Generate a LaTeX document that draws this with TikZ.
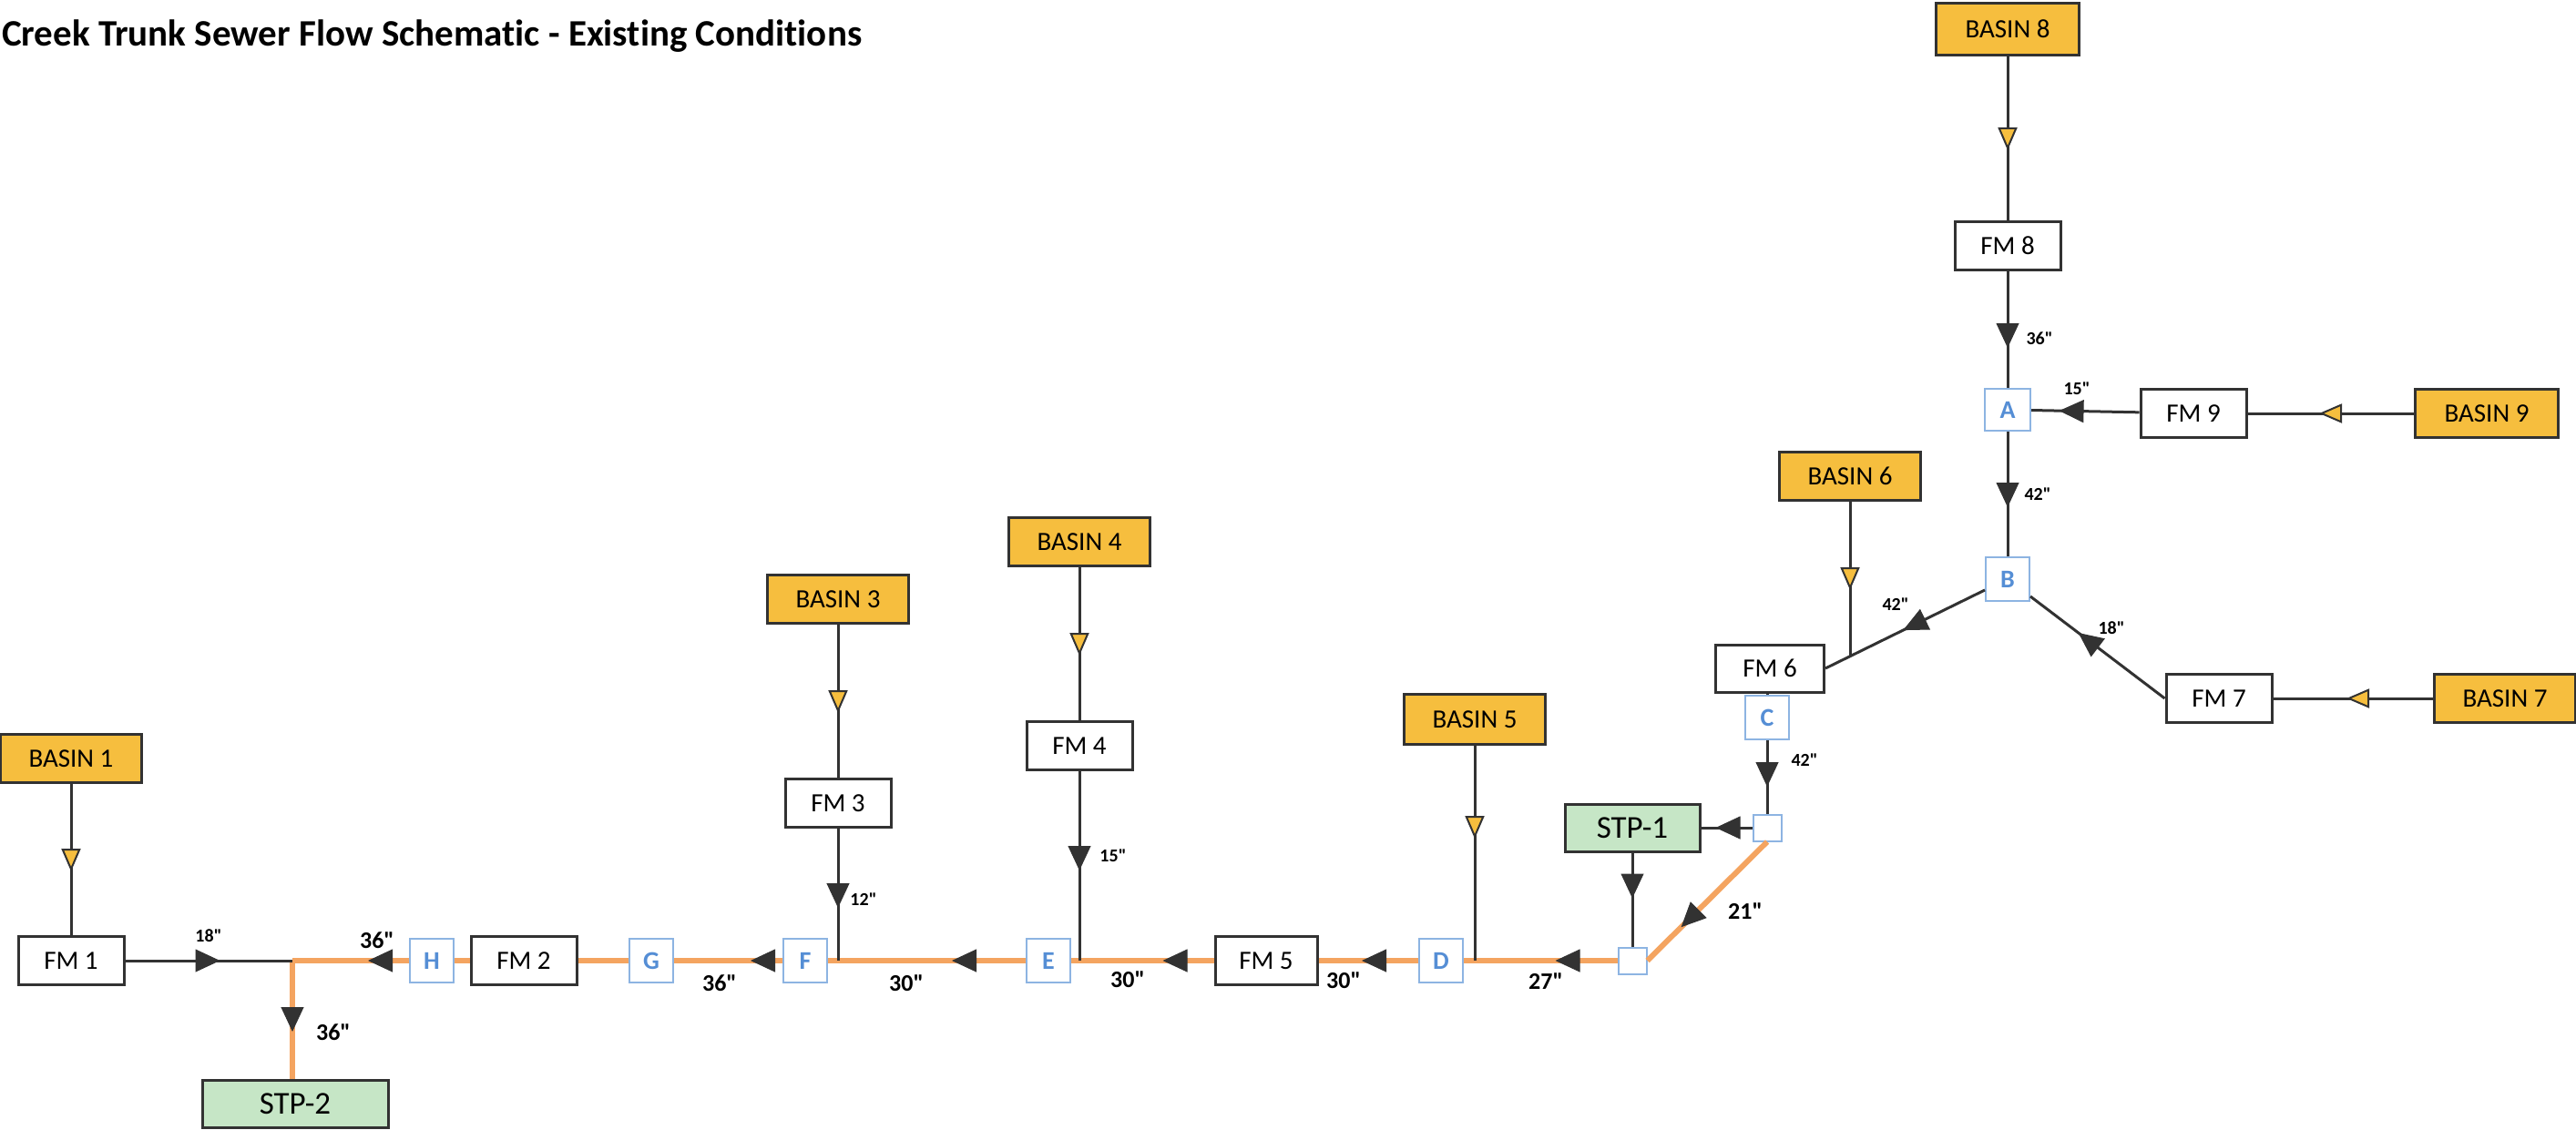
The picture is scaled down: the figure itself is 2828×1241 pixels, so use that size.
\documentclass[tikz,border=0pt]{standalone}
\usepackage{fontspec}
\setmainfont{Carlito}[Ligatures={TeXOff,NoCommon}]
\usetikzlibrary{arrows.meta,decorations.markings}
\definecolor{basinc}{RGB}{246,190,62}
\definecolor{stpc}{RGB}{198,230,198}
\definecolor{pipec}{RGB}{244,164,96}
\definecolor{dark}{RGB}{50,50,50}
\definecolor{ltr}{RGB}{85,142,213}
\definecolor{ltrb}{RGB}{141,180,226}
\begin{document}
\begin{tikzpicture}[x=1pt,y=-1pt,
  basin/.style={draw=dark,fill=basinc,line width=3pt,minimum width=155pt,minimum height=53pt,inner sep=0pt,font=\fontsize{29}{31}\selectfont},
  fm/.style={draw=dark,fill=white,line width=3pt,minimum width=116pt,minimum height=53pt,inner sep=0pt,font=\fontsize{29}{31}\selectfont},
  stp/.style={draw=dark,fill=stpc,line width=3pt,minimum height=52pt,inner sep=0pt,font=\fontsize{35}{37}\selectfont},
  ltrbox/.style={draw=ltrb,fill=white,line width=2pt,minimum width=48pt,minimum height=48pt,inner sep=0pt,text=ltr,font=\bfseries\fontsize{28}{30}\selectfont},
  jbox/.style={draw=ltrb,fill=white,line width=2pt,minimum width=31pt,minimum height=29pt,inner sep=0pt},
  pipe/.style={draw=dark,line width=3pt},
  opipe/.style={draw=pipec,line width=6pt},
  lsmall/.style={font=\bfseries\fontsize{20}{20}\selectfont,inner sep=0pt},
  lbig/.style={font=\bfseries\fontsize{26}{26}\selectfont,inner sep=0pt},
  ytri/.style={postaction={decorate,decoration={markings,mark=at position #1 with {\arrow{Triangle[color=dark,fill=basinc,length=25pt,width=21pt,line width=2pt]}}}}},
  dtri/.style={postaction={decorate,decoration={markings,mark=at position #1 with {\arrow{Triangle[color=dark,length=27pt,width=25pt,line width=1pt]}}}}}
]
\useasboundingbox (0,0) rectangle (2828,1241);

% title
\node[anchor=base west,font=\bfseries\fontsize{41}{41}\selectfont,inner sep=0pt] (title) at (2,51) {Creek Trunk Sewer Flow Schematic - Existing Conditions};

% nodes
\node[basin] (basin1) at (78,833) {BASIN 1};
\node[fm] (fm1) at (78,1055) {FM 1};
\coordinate (j1) at (321,1055);
\node[stp,minimum width=204pt] (stp2) at (324,1212) {STP-2};
\node[ltrbox] (h) at (474,1055) {H};
\node[fm] (fm2) at (575,1055) {FM 2};
\node[ltrbox] (g) at (715,1055) {G};
\node[ltrbox] (f) at (884,1055) {F};
\node[basin] (basin3) at (920,658) {BASIN 3};
\node[fm] (fm3) at (920,882) {FM 3};
\node[ltrbox] (e) at (1151,1055) {E};
\node[basin] (basin4) at (1185,595) {BASIN 4};
\node[fm] (fm4) at (1185,819) {FM 4};
\node[fm,minimum width=112pt] (fm5) at (1390,1055) {FM 5};
\node[ltrbox] (d) at (1582,1055) {D};
\node[basin,minimum height=55pt] (basin5) at (1619,790) {BASIN 5};
\node[jbox] (j2) at (1792,1055) {};
\node[stp,minimum width=148pt] (stp1) at (1792,909) {STP-1};
\node[jbox] (j3) at (1940,909) {};
\node[ltrbox] (c) at (1940,788) {C};
\node[fm,minimum width=119pt,minimum height=52pt] (fm6) at (1943,734) {FM 6};
\node[basin] (basin6) at (2031,523) {BASIN 6};
\node[ltrbox] (b) at (2204,636) {B};
\node[ltrbox,minimum width=50pt,minimum height=46pt] (a) at (2204,450) {A};
\node[fm] (fm8) at (2204,270) {FM 8};
\node[basin,minimum width=157pt,minimum height=57pt] (basin8) at (2204,32) {BASIN 8};
\node[fm] (fm9) at (2408,454) {FM 9};
\node[basin,minimum width=157pt] (basin9) at (2730,454) {BASIN 9};
\node[fm] (fm7) at (2436,767) {FM 7};
\node[basin] (basin7) at (2750,767) {BASIN 7};

% main trunk (orange)
\draw[opipe,dtri=45pt] (h) -- (j1);
\draw[opipe,dtri=78pt] (j1) -- (j1 |- stp2.north);
\draw[opipe] (fm2) -- (h);
\draw[opipe] (g) -- (fm2);
\draw[opipe,dtri=35pt] (f) -- (g);
\draw[opipe,dtri=81pt] (e) -- (f);
\draw[opipe,dtri=56pt] (fm5) -- (e);
\draw[opipe,dtri=62pt] (d) -- (fm5);
\draw[opipe,dtri=68pt] (j2) -- (d);
\draw[opipe,dtri=133pt] (j3.south) -- (j2.east);

% branches
\draw[pipe,ytri=96pt] (basin1) -- (fm1);
\draw[pipe,dtri=104pt] (fm1) -- (j1);
\draw[pipe,ytri=97pt] (basin3) -- (fm3);
\draw[pipe,dtri=87pt] (fm3) -- (fm3.south |- j1);
\draw[pipe,ytri=97pt] (basin4) -- (fm4);
\draw[pipe,dtri=109pt] (fm4) -- (fm4.south |- j1);
\draw[pipe,ytri=102pt] (basin5) -- (basin5.south |- j1);
\draw[pipe,dtri=50pt] (stp1) -- (j2);
\draw[pipe,dtri=40pt] (j3) -- (stp1);
\draw[pipe,dtri=51pt] (c) -- (j3);
\draw[pipe] (c.north) -- (c.north |- fm6.south);
\coordinate (bw) at ([yshift=-12pt]b.west);
\coordinate (j4) at (2031,721);
\draw[pipe,dtri=100pt] (bw) -- (fm6.east);
\draw[pipe,ytri=97pt] (basin6) -- (j4);
\draw[pipe,dtri=83pt] (a) -- (b);
\draw[pipe,dtri=84pt] (fm8) -- (a);
\draw[pipe,ytri=103pt] (basin8) -- (fm8);
\draw[pipe,dtri=88pt] (fm9) -- (a);
\draw[pipe,ytri=104pt] (basin9) -- (fm9);
\coordinate (be) at ([yshift=-19pt]b.east);
\draw[pipe,dtri=119pt] (fm7.west) -- (be);
\draw[pipe,ytri=95pt] (basin7) -- (fm7);

% pipe size labels
\node[lsmall] (l18a) at (229,1028) {18"};
\node[lbig] (l36h) at (414,1033) {36"};
\node[lbig] (l36s) at (366,1134) {36"};
\node[lbig] (l36g) at (790,1080) {36"};
\node[lbig] (l30f) at (995,1080) {30"};
\node[lbig] (l30e) at (1238,1076) {30"};
\node[lbig] (l30d) at (1475,1077) {30"};
\node[lbig] (l27) at (1697,1078) {27"};
\node[lbig] (l21) at (1916,1001) {21"};
\node[lsmall] (l42c) at (1981,835) {42"};
\node[lsmall] (l12) at (948,988) {12"};
\node[lsmall] (l15e) at (1222,940) {15"};
\node[lsmall] (l42b) at (2081,664) {42"};
\node[lsmall] (l42a) at (2237,543) {42"};
\node[lsmall] (l36a) at (2239,372) {36"};
\node[lsmall] (l15a) at (2280,427) {15"};
\node[lsmall] (l18b) at (2318,690) {18"};
\end{tikzpicture}
\end{document}
